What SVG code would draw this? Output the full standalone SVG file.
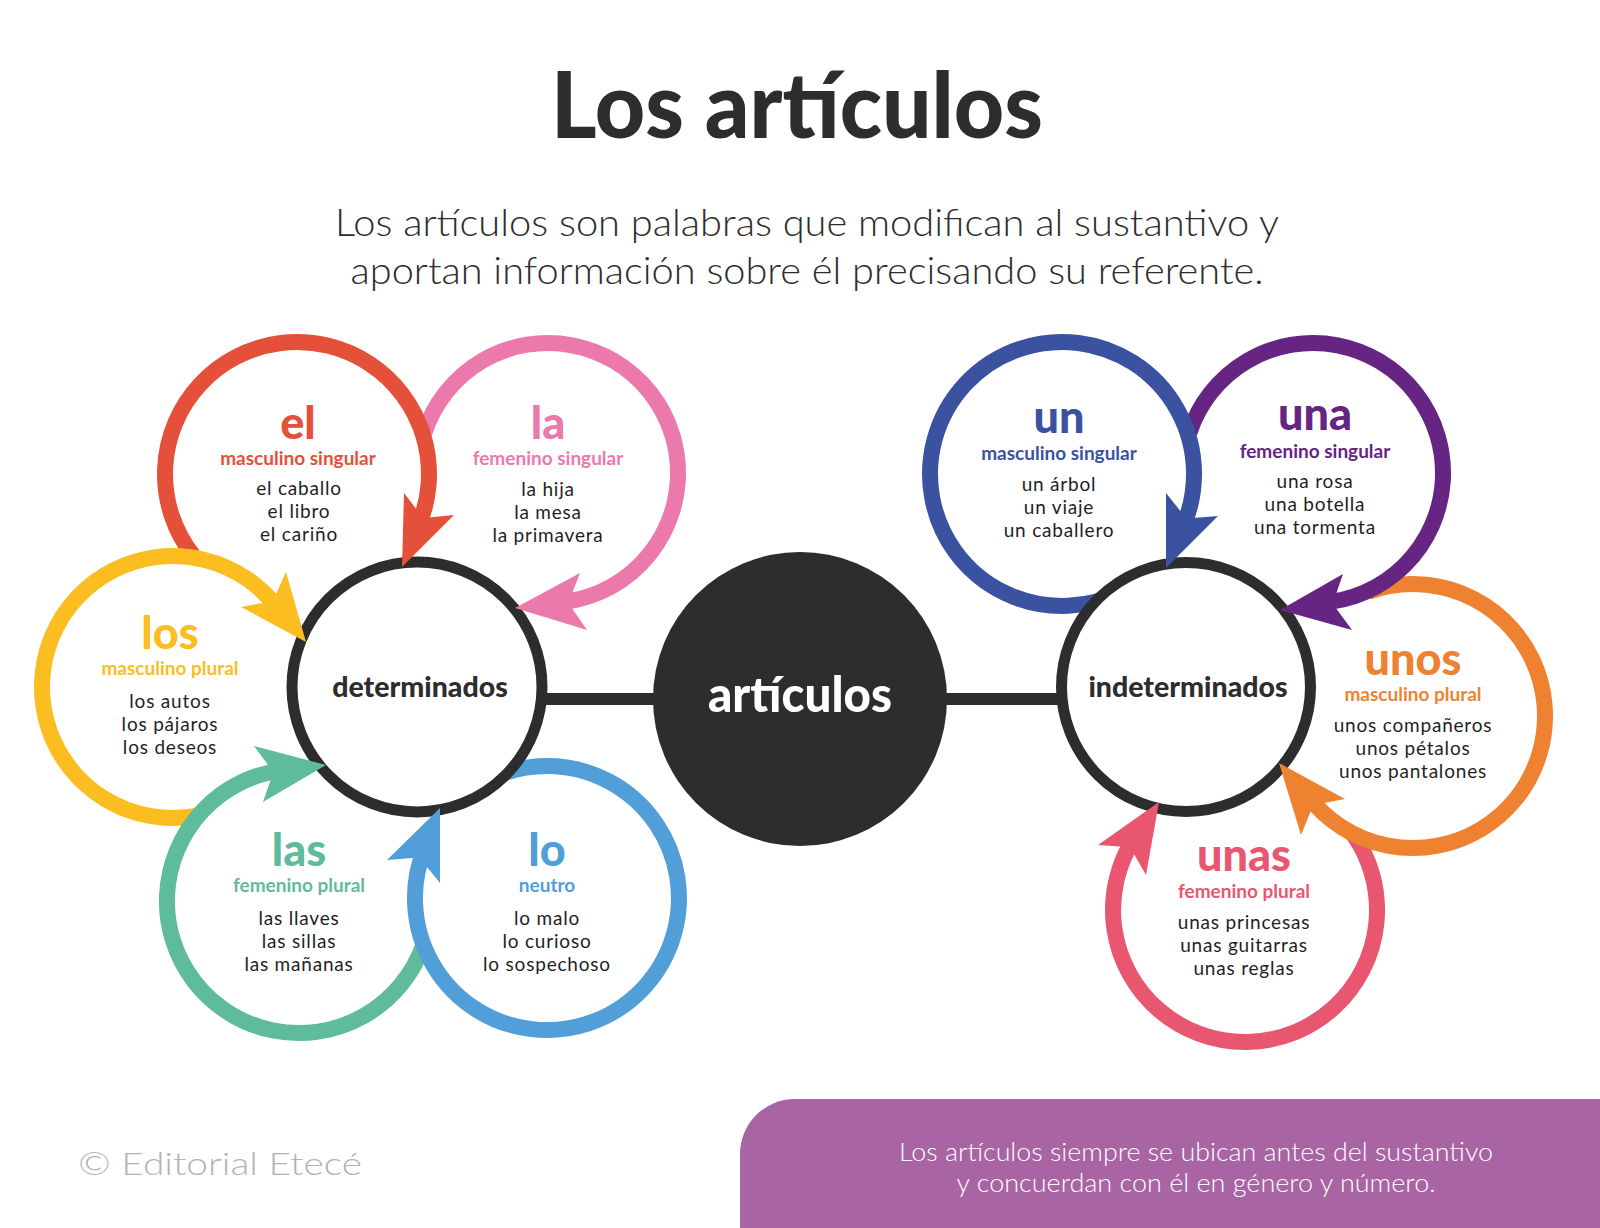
<svg xmlns="http://www.w3.org/2000/svg" width="1600" height="1228" viewBox="0 0 1600 1228">
<style>
text{font-family:Lato,"Open Sans","Liberation Sans",sans-serif;text-anchor:middle}
.title{font-size:92px;font-weight:900;fill:#2d2d2d}
.sub{font-size:38px;font-weight:300;fill:#2d2d2d}
.big{font-size:45px;font-weight:900}
.cat{font-size:19px;font-weight:700}
.ex{font-size:19px;font-weight:400;fill:#1f1f1f;letter-spacing:0.8px}
.hub{font-size:28.5px;font-weight:900;fill:#2d2d2d}
.ring{fill:none;stroke-width:16}
.hubc{fill:#fff;stroke:#2d2d2d;stroke-width:11}
.link{stroke:#2d2d2d;stroke-width:12}
.red{fill:#e5503a;stroke:#e5503a}
.pink{fill:#ec79ac;stroke:#ec79ac}
.yel{fill:#fbbd20;stroke:#fbbd20}
.teal{fill:#5ebb9c;stroke:#5ebb9c}
.blue{fill:#519ed9;stroke:#519ed9}
.navy{fill:#3a52a0;stroke:#3a52a0}
.purp{fill:#662483;stroke:#662483}
.ora{fill:#ef8231;stroke:#ef8231}
.rose{fill:#e85670;stroke:#e85670}
text.red,text.pink,text.yel,text.teal,text.blue,text.navy,text.purp,text.ora,text.rose{stroke:none}
.ring.red,.ring.pink,.ring.yel,.ring.teal,.ring.blue,.ring.navy,.ring.purp,.ring.ora,.ring.rose{fill:none}
.head{stroke:none}
</style>
<rect width="1600" height="1228" fill="#fff"/>

<text class="title" x="797" y="138" textLength="492" lengthAdjust="spacingAndGlyphs">Los artículos</text>
<text class="sub" x="807" y="236" textLength="944" lengthAdjust="spacingAndGlyphs">Los artículos son palabras que modifican al sustantivo y</text>
<text class="sub" x="807" y="284" textLength="913" lengthAdjust="spacingAndGlyphs">aportan información sobre él precisando su referente.</text>

<g id="connectors">
  <line class="link" x1="540" y1="699" x2="660" y2="699"/>
  <line class="link" x1="940" y1="699" x2="1065" y2="699"/>
</g>

<g id="node-la">
  <path class="ring pink" d="M424.4,432.8 A130,130 0 1 1 557.1,602.7"/>
  <text class="big pink" x="548" y="439">la</text>
  <text class="cat pink" x="548" y="465">femenino singular</text>
  <text class="ex" x="548" y="496">la hija</text>
  <text class="ex" x="548" y="519">la mesa</text>
  <text class="ex" x="548" y="542">la primavera</text>
</g>
<g id="node-el">
  <path class="ring red" d="M193.0,555.3 A132,132 0 1 1 417.6,527.7"/>
  <text class="big red" x="298" y="439">el</text>
  <text class="cat red" x="298" y="465">masculino singular</text>
  <text class="ex" x="299" y="495">el caballo</text>
  <text class="ex" x="299" y="518">el libro</text>
  <text class="ex" x="299" y="541">el cariño</text>
</g>
<g id="node-los">
  <path class="ring yel" d="M195.7,816.0 A131,131 0 1 1 279.4,610.6"/>
  <text class="big yel" x="170" y="649">los</text>
  <text class="cat yel" x="170" y="675">masculino plural</text>
  <text class="ex" x="170" y="708">los autos</text>
  <text class="ex" x="170" y="731">los pájaros</text>
  <text class="ex" x="170" y="754">los deseos</text>
</g>
<g id="node-las">
  <path class="ring teal" d="M423.0,946.1 A132,132 0 1 1 284.7,769.8"/>
  <text class="big teal" x="299" y="866">las</text>
  <text class="cat teal" x="299" y="892">femenino plural</text>
  <text class="ex" x="299" y="925">las llaves</text>
  <text class="ex" x="299" y="948">las sillas</text>
  <text class="ex" x="299" y="971">las mañanas</text>
</g>
<g id="node-lo">
  <path class="ring blue" d="M491.2,778.4 A132,132 0 1 1 425.1,847.3"/>
  <text class="big blue" x="547" y="866">lo</text>
  <text class="cat blue" x="547" y="892">neutro</text>
  <text class="ex" x="547" y="925">lo malo</text>
  <text class="ex" x="547" y="948">lo curioso</text>
  <text class="ex" x="547" y="971">lo sospechoso</text>
</g>
<g id="node-determinados">
  <circle class="hubc" cx="417" cy="687" r="125"/>
  <text class="hub" x="420" y="697">determinados</text>
</g>

<g id="node-unas">
  <path class="ring rose" d="M1351.8,832.4 A132,132 0 1 1 1135.2,836.8"/>
  <text class="big rose" x="1244" y="871">unas</text>
  <text class="cat rose" x="1244" y="898">femenino plural</text>
  <text class="ex" x="1244" y="929">unas princesas</text>
  <text class="ex" x="1244" y="952">unas guitarras</text>
  <text class="ex" x="1244" y="975">unas reglas</text>
</g>
<g id="node-unos">
  <path class="ring ora" d="M1367.9,592.0 A132,132 0 1 1 1307.3,795.1"/>
  <text class="big ora" x="1413" y="675">unos</text>
  <text class="cat ora" x="1413" y="701">masculino plural</text>
  <text class="ex" x="1413" y="732">unos compañeros</text>
  <text class="ex" x="1413" y="755">unos pétalos</text>
  <text class="ex" x="1413" y="778">unos pantalones</text>
</g>
<g id="node-una">
  <path class="ring purp" d="M1189.4,432.8 A130,130 0 1 1 1320.9,602.8"/>
  <text class="big purp" x="1315" y="430">una</text>
  <text class="cat purp" x="1315" y="458">femenino singular</text>
  <text class="ex" x="1315" y="488">una rosa</text>
  <text class="ex" x="1315" y="511">una botella</text>
  <text class="ex" x="1315" y="534">una tormenta</text>
</g>
<g id="node-un">
  <path class="ring navy" d="M1124.0,590.5 A132,132 0 1 1 1181.9,529.2"/>
  <text class="big navy" x="1059" y="433">un</text>
  <text class="cat navy" x="1059" y="460">masculino singular</text>
  <text class="ex" x="1059" y="491">un árbol</text>
  <text class="ex" x="1059" y="514">un viaje</text>
  <text class="ex" x="1059" y="537">un caballero</text>
</g>
<g id="node-indeterminados">
  <circle class="hubc" cx="1186" cy="687" r="124.5"/>
  <text class="hub" x="1188" y="697">indeterminados</text>
</g>

<g id="node-articulos">
  <circle cx="800" cy="699" r="147" fill="#2d2d2d"/>
  <text x="800" y="712" font-size="50" font-weight="900" fill="#fff" textLength="184" lengthAdjust="spacingAndGlyphs">artículos</text>
</g>

<g id="arrowheads">
  <polygon class="head red" points="402,567 404,493 423.1,517.9 454,515"/>
  <polygon class="head pink" points="515,608 580,573 568.4,602.9 587,630"/>
  <polygon class="head yel" points="306,642 286,572 272.9,601.1 241,607"/>
  <polygon class="head teal" points="326,765 254,746 273.4,772 263,802"/>
  <polygon class="head blue" points="440,808 387,860 419.3,857.5 440,883"/>
  <polygon class="head navy" points="1166,568 1166,493 1186.3,518.5 1218,516"/>
  <polygon class="head purp" points="1280,610 1343,574 1332.7,603.8 1352,630"/>
  <polygon class="head ora" points="1279,763 1345,799 1313.3,805.1 1301,835"/>
  <polygon class="head rose" points="1159,802 1098,845 1130.1,847.2 1146,875"/>
</g>

<g id="footer">
  <text x="220" y="1175" font-size="32" font-weight="300" fill="#b3b3b3" textLength="284" lengthAdjust="spacingAndGlyphs">© Editorial Etecé</text>
  <path d="M740,1228 L740,1154 A55,55 0 0 1 795,1099 L1600,1099 L1600,1228 Z" fill="#a964a4"/>
  <text x="1196" y="1161" font-size="25" font-weight="300" fill="#fff" textLength="594" lengthAdjust="spacingAndGlyphs">Los artículos siempre se ubican antes del sustantivo</text>
  <text x="1196" y="1192" font-size="25" font-weight="300" fill="#fff" textLength="479" lengthAdjust="spacingAndGlyphs">y concuerdan con él en género y número.</text>
</g>
</svg>
